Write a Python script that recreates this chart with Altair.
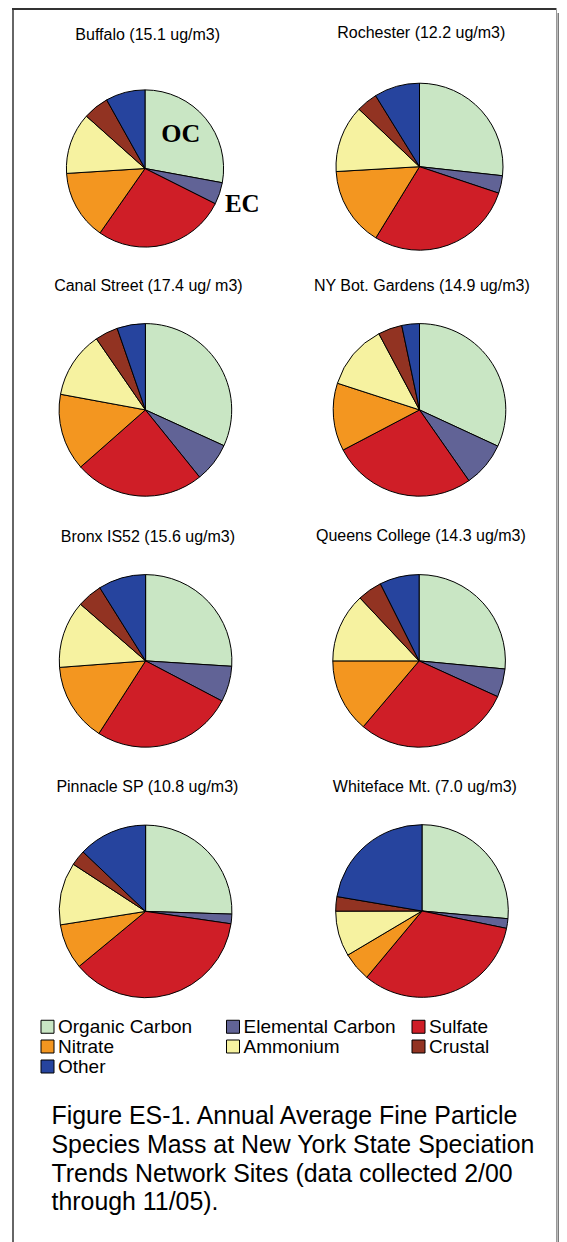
import altair as alt
import pandas as pd

# ---------------- data ----------------
sites = [
    "Buffalo (15.1 ug/m3)", "Rochester (12.2 ug/m3)",
    "Canal Street (17.4 ug/ m3)", "NY Bot. Gardens (14.9 ug/m3)",
    "Bronx IS52 (15.6 ug/m3)", "Queens College (14.3 ug/m3)",
    "Pinnacle SP (10.8 ug/m3)", "Whiteface Mt. (7.0 ug/m3)",
]
species = ["Organic Carbon", "Elemental Carbon", "Sulfate", "Nitrate",
           "Ammonium", "Crustal", "Other"]
# percent of mass, in species order
buffalo = [27.9, 4.5, 27.3, 14.3, 12.6, 5.3, 8.1]
rochester = [26.7, 3.4, 28.6, 15.3, 13.0, 4.1, 8.8]
canal = [31.8, 7.4, 24.3, 14.4, 12.5, 4.3, 5.3]
nybg = [31.9, 8.4, 27.0, 12.7, 12.2, 4.5, 3.3]
bronx = [26.0, 6.7, 26.4, 14.7, 12.6, 4.7, 8.9]
queens = [26.5, 5.3, 29.4, 13.8, 13.0, 4.6, 7.4]
pinnacle = [25.5, 1.8, 36.7, 8.5, 11.7, 2.9, 12.9]
whiteface = [26.4, 1.8, 32.8, 5.4, 8.5, 2.7, 22.3]
site_values = [buffalo, rochester, canal, nybg, bronx, queens, pinnacle, whiteface]

colors = ["#c9e6c4", "#616396", "#cf1e27", "#f39620", "#f6f2a0", "#923322", "#26449e"]

caption = ("Figure ES-1. Annual Average Fine Particle\n"
           "Species Mass at New York State Speciation\n"
           "Trends Network Sites (data collected 2/00\n"
           "through 11/05).")

# ---------------- layout (pixels) ----------------
W, H = 551, 1234
pie_cx = [137, 411.5, 137.4, 411.5, 137.6, 411.1, 137.6, 414]
pie_cy = [160.5, 158.7, 401.9, 401.9, 652.9, 652.9, 903.4, 903]
pie_r = [78.6, 83.5, 86.3, 86.3, 86.3, 86.3, 86.3, 86.3]
title_x = [139.7, 413.3, 140.4, 413.8, 139.9, 412.9, 139.4, 416.9]
title_y = [27, 25.3, 278.4, 278, 529.2, 528.2, 779, 779]

rows = []
for i, s in enumerate(sites):
    for j, sp in enumerate(species):
        rows.append({"site": s, "species": sp, "order": j,
                     "value": site_values[i][j],
                     "cx": pie_cx[i], "cy": pie_cy[i], "r": pie_r[i]})
df = pd.DataFrame(rows)

titles = pd.DataFrame({"site": sites, "tx": title_x, "ty": title_y})
one = pd.DataFrame({"k": [0]})

pies = alt.Chart(df).transform_joinaggregate(
    total="sum(value)", groupby=["site"]
).transform_window(
    cum="sum(value)", groupby=["site"], sort=[alt.SortField("order")],
    frame=[None, 0]
).transform_calculate(
    start="(datum.cum - datum.value) / datum.total",
    end="datum.cum / datum.total",
).mark_arc(stroke="black", strokeWidth=1).encode(
    x=alt.X("cx:Q", scale=None, axis=None),
    y=alt.Y("cy:Q", scale=None, axis=None),
    radius=alt.Radius("r:Q", scale=None),
    theta=alt.Theta("start:Q", scale=alt.Scale(domain=[0, 1], range=[0, 6.283185307])),
    theta2="end:Q",
    color=alt.Color(
        "species:N",
        scale=alt.Scale(domain=species, range=colors),
        legend=alt.Legend(
            title=None, orient="none", legendX=30, legendY=1009,
            direction="horizontal", columns=3, gridAlign="all",
            columnPadding=12.5, rowPadding=0,
            symbolType="square", symbolSize=169, symbolStrokeColor="black",
            symbolStrokeWidth=1, symbolOpacity=1, labelFont="Liberation Sans",
            labelFontSize=19, labelColor="black", labelOffset=1, labelLimit=300,
            padding=0,
        ),
    ),
    order=alt.Order("order:Q"),
)

title_layer = alt.Chart(titles).mark_text(
    font="Liberation Sans", fontSize=16, color="black", baseline="middle", align="center"
).encode(
    x=alt.X("tx:Q", scale=None), y=alt.Y("ty:Q", scale=None), text="site:N"
)

oc = alt.Chart(one).mark_text(
    text="OC", font="Liberation Serif", fontWeight="bold", fontSize=26,
    color="black", baseline="middle", align="center"
).encode(x=alt.value(172.8), y=alt.value(126.2))
ec = alt.Chart(one).mark_text(
    text="EC", font="Liberation Serif", fontWeight="bold", fontSize=25,
    color="black", baseline="middle", align="center"
).encode(x=alt.value(234.3), y=alt.value(196.3))

cap = alt.Chart(one).mark_text(
    text=caption, lineBreak="\n", lineHeight=28.8, font="Liberation Sans",
    fontSize=24.9, color="black", align="left", baseline="alphabetic"
).encode(x=alt.value(43.5), y=alt.value(1116))

shadow = alt.Chart(one).mark_rect(color="#7a7a7a").encode(
    x=alt.value(549.5), x2=alt.value(W), y=alt.value(5), y2=alt.value(H)
)
left_line = alt.Chart(one).mark_rule(color="#666666", strokeWidth=2).encode(
    x=alt.value(5), y=alt.value(0), y2=alt.value(H)
)
top_line = alt.Chart(one).mark_rule(color="#333333", strokeWidth=2).encode(
    x=alt.value(4), x2=alt.value(549), y=alt.value(1)
)
right_line = alt.Chart(one).mark_rule(color="#999999", strokeWidth=1).encode(
    x=alt.value(548.5), y=alt.value(0), y2=alt.value(H)
)

chart = alt.layer(
    shadow, left_line, top_line, right_line, pies, title_layer, oc, ec, cap
).properties(
    width=W, height=H, autosize=alt.AutoSizeParams(type="none"), padding=0,
    background="white"
).configure_view(stroke=None)

chart.save("out.html", embed_options={"renderer": "svg", "actions": False})
